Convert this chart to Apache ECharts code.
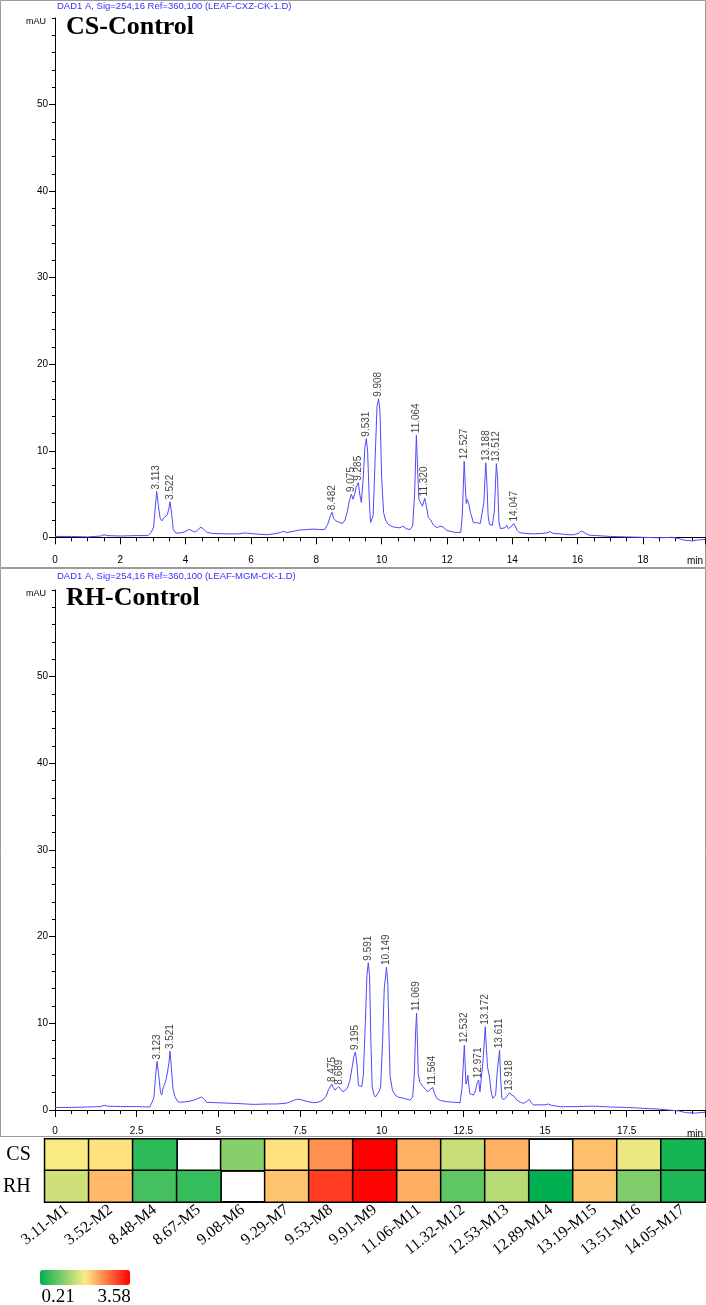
<!DOCTYPE html>
<html>
<head>
<meta charset="utf-8">
<script src="https://cdn.jsdelivr.net/npm/echarts@6.0.0/dist/echarts.min.js"></script>
<style>
html,body{margin:0;padding:0;background:#fff;}
#chart{width:706px;height:1305px;}
</style>
</head>
<body>
<div id="chart"></div>
<script>
// chromatogram traces [time (min), signal (mAU)]
const csTrace = [[0,0.1],[0.5,0.1],[1,0.05],[1.4,0.15],[1.5,0.3],[1.6,0.2],[2,0.15],[2.5,0.2],[2.85,0.2],[2.95,0.6],[3.02,1.2],[3.07,3.5],[3.113,5.3],[3.16,3.8],[3.22,2.2],[3.27,1.9],[3.32,2.2],[3.38,2.3],[3.44,2.6],[3.49,3.4],[3.522,4.1],[3.57,2.8],[3.62,0.9],[3.7,0.5],[3.82,0.5],[3.95,0.6],[4.05,0.8],[4.13,0.9],[4.22,0.7],[4.29,0.6],[4.38,0.9],[4.47,1.2],[4.56,0.9],[4.64,0.6],[4.8,0.45],[5.2,0.4],[5.6,0.4],[5.82,0.5],[6.1,0.4],[6.49,0.3],[6.7,0.4],[6.9,0.55],[6.99,0.7],[7.1,0.55],[7.3,0.7],[7.5,0.85],[7.7,0.9],[7.9,0.95],[8.1,0.9],[8.25,0.9],[8.35,1.5],[8.43,2.5],[8.482,2.9],[8.53,2.2],[8.6,1.9],[8.66,2.0],[8.72,1.7],[8.8,1.6],[8.88,2.0],[8.95,3.0],[9.01,4.2],[9.075,5.0],[9.12,4.4],[9.17,4.9],[9.22,5.8],[9.285,6.3],[9.33,5.0],[9.38,4.0],[9.43,6.5],[9.49,10.5],[9.531,11.4],[9.57,10.0],[9.62,4.5],[9.66,1.7],[9.7,1.5],[9.74,2.5],[9.8,9.0],[9.86,15.2],[9.908,16.0],[9.95,14.5],[10.0,7.0],[10.06,2.85],[10.12,2.0],[10.2,1.5],[10.35,1.2],[10.56,1.1],[10.65,1.3],[10.75,1.0],[10.87,0.9],[10.95,1.3],[11.01,5.0],[11.064,11.8],[11.1,8.0],[11.14,4.4],[11.2,4.2],[11.25,3.6],[11.32,4.5],[11.37,3.6],[11.43,2.3],[11.5,2.0],[11.59,1.4],[11.7,1.1],[11.79,1.3],[11.88,1.2],[11.99,0.8],[12.2,0.6],[12.42,0.55],[12.47,2.5],[12.527,8.8],[12.56,6.0],[12.59,3.9],[12.62,4.4],[12.67,3.8],[12.72,2.85],[12.81,1.7],[12.9,1.7],[12.96,1.9],[13.02,1.6],[13.08,1.7],[13.13,4.0],[13.188,8.6],[13.22,6.5],[13.26,2.5],[13.3,1.5],[13.39,1.4],[13.45,3.0],[13.512,8.5],[13.55,6.8],[13.59,1.8],[13.64,1.0],[13.7,0.9],[13.77,1.1],[13.83,1.4],[13.88,1.0],[13.93,0.9],[13.99,1.3],[14.047,1.6],[14.1,1.2],[14.15,0.8],[14.21,0.55],[14.4,0.45],[14.65,0.4],[14.9,0.45],[15.05,0.5],[15.16,0.65],[15.25,0.45],[15.47,0.4],[15.7,0.3],[15.9,0.3],[16.05,0.5],[16.12,0.75],[16.2,0.55],[16.35,0.25],[16.6,0.2],[17,0.1],[17.5,0.05],[18,0.0],[18.5,-0.05],[18.9,0.0],[19.1,-0.15],[19.3,-0.35],[19.5,-0.4],[19.7,-0.3],[19.9,-0.25]];

const rhTrace = [[0,0.3],[0.5,0.3],[1,0.35],[1.4,0.4],[1.5,0.55],[1.6,0.45],[2,0.4],[2.5,0.4],[2.9,0.35],[2.97,0.9],[3.03,1.5],[3.08,4.0],[3.123,5.6],[3.17,4.2],[3.23,2.0],[3.27,1.75],[3.31,2.6],[3.35,2.9],[3.4,3.5],[3.45,4.5],[3.49,5.5],[3.521,6.8],[3.56,5.0],[3.61,2.5],[3.67,1.55],[3.75,1.0],[3.82,0.9],[4.0,0.95],[4.23,1.1],[4.35,1.3],[4.49,1.5],[4.58,1.2],[4.64,0.9],[4.9,0.85],[5.25,0.8],[5.6,0.75],[6.07,0.65],[6.5,0.7],[6.8,0.7],[7.1,0.8],[7.3,1.1],[7.4,1.25],[7.5,1.23],[7.7,1.0],[7.91,0.85],[8.05,0.9],[8.2,1.15],[8.3,1.6],[8.38,2.4],[8.475,3.0],[8.52,2.6],[8.57,2.3],[8.62,2.5],[8.689,2.7],[8.75,2.4],[8.82,2.1],[8.88,2.1],[8.95,2.5],[9.03,3.45],[9.1,5.0],[9.15,6.2],[9.195,6.7],[9.24,5.5],[9.29,2.85],[9.34,2.8],[9.39,2.7],[9.44,4.0],[9.5,10.0],[9.55,15.5],[9.591,17.0],[9.63,15.5],[9.67,8.0],[9.71,2.7],[9.76,1.8],[9.81,1.5],[9.87,1.7],[9.93,2.2],[9.97,2.7],[10.03,8.0],[10.08,14.0],[10.149,16.5],[10.19,14.5],[10.23,8.0],[10.26,3.85],[10.33,2.3],[10.41,1.73],[10.5,1.5],[10.67,1.35],[10.87,1.15],[10.95,1.5],[11.0,4.0],[11.04,9.0],[11.069,11.2],[11.1,7.5],[11.12,4.2],[11.17,3.2],[11.27,2.7],[11.34,2.4],[11.4,2.1],[11.47,2.3],[11.564,2.6],[11.62,1.9],[11.69,1.35],[11.8,1.1],[11.99,0.96],[12.2,0.9],[12.4,0.85],[12.46,2.5],[12.532,7.5],[12.56,5.0],[12.58,3.0],[12.61,3.3],[12.64,4.0],[12.67,2.8],[12.7,1.9],[12.81,1.73],[12.87,2.2],[12.93,3.2],[12.971,3.45],[13.01,2.1],[13.05,2.2],[13.1,5.5],[13.172,9.6],[13.21,7.0],[13.24,5.0],[13.3,3.85],[13.35,2.2],[13.4,1.35],[13.45,1.5],[13.49,1.73],[13.54,4.5],[13.611,6.9],[13.64,4.0],[13.68,1.35],[13.75,1.2],[13.82,1.5],[13.918,2.0],[13.98,1.73],[14.05,1.6],[14.14,1.15],[14.25,0.9],[14.34,0.77],[14.43,0.95],[14.52,1.23],[14.58,0.85],[14.65,0.58],[14.85,0.6],[15.0,0.6],[15.1,0.7],[15.2,0.55],[15.47,0.38],[16,0.4],[16.5,0.45],[17,0.35],[17.5,0.3],[18,0.2],[18.5,0.1],[18.8,0.0],[19.1,-0.1],[19.3,-0.3],[19.6,-0.35],[19.9,-0.25]];

// labelled peaks
const csPeakTimes = [3.113,3.522,8.482,9.075,9.285,9.531,9.908,11.064,11.320,12.527,13.188,13.512,14.047];
const csPeakHeights = [5.3,4.1,2.9,5.0,6.3,11.4,16.0,11.8,4.5,8.8,8.6,8.5,1.6];
const rhPeakTimes = [3.123,3.521,8.475,8.689,9.195,9.591,10.149,11.069,11.564,12.532,12.971,13.172,13.611,13.918];
const rhPeakHeights = [5.6,6.8,3.0,2.7,6.7,17.0,16.5,11.2,2.6,7.5,3.45,9.6,6.9,2.0];

// y axis ticks
const yMajorTicks = [0,10,20,30,40,50];
const yMinorTicks = [2,4,6,8,12,14,16,18,22,24,26,28,32,34,36,38,42,44,46,48,52,54,56,58,60];

// heatmap
const metaboliteLabels = ['3.11-M1','3.52-M2','8.48-M4','8.67-M5','9.08-M6','9.29-M7','9.53-M8','9.91-M9','11.06-M11','11.32-M12','12.53-M13','12.89-M14','13.19-M15','13.51-M16','14.05-M17'];
const groupLabels = ['CS','RH'];
const csValues = [1.86,1.97,0.51,null,1.10,1.97,2.55,3.58,2.32,1.53,2.32,null,2.21,1.77,0.35];
const rhValues = [1.58,2.25,0.66,0.56,null,2.17,3.16,3.55,2.33,0.83,1.41,0.21,2.17,1.05,0.40];
const scaleMin = 0.21;
const scaleMax = 3.58;

const traceColor = '#4b4bff';
const sans = 'Liberation Sans';
const serif = 'Liberation Serif';

const heatData = [];
csValues.forEach((v,i)=>{ if (v !== null) heatData.push([i,'CS',v]); });
rhValues.forEach((v,i)=>{ if (v !== null) heatData.push([i,'RH',v]); });

const traceXAxis = (grid, interval, minorSplit)=>({
    gridIndex: grid, type: 'value', min: 0, max: 19.9, interval: interval,
    axisLine: {lineStyle: {color: '#000', width: 1}},
    axisTick: {length: 7, lineStyle: {color: '#000'}},
    minorTick: {show: true, splitNumber: minorSplit, length: 4, lineStyle: {color: '#000'}},
    axisLabel: {fontSize: 10, fontFamily: sans, color: '#000', margin: 4, showMaxLabel: false},
    splitLine: {show: false},
    name: 'min', nameLocation: 'end', nameGap: -18,
    nameTextStyle: {fontSize: 10, fontFamily: sans, color: '#000', verticalAlign: 'top', padding: [19,0,0,0]}
});
const hiddenX = (grid)=>({gridIndex: grid, type: 'value', min: 0, max: 19.9, show: false});
const majorY = (grid, min)=>({
    gridIndex: grid, type: 'value', min: min, max: 60, position: 'left',
    axisLine: {show: true, lineStyle: {color: '#000', width: 1}},
    axisTick: {show: true, length: 6, customValues: yMajorTicks, lineStyle: {color: '#000'}},
    axisLabel: {customValues: yMajorTicks, fontSize: 10, fontFamily: sans, color: '#000', margin: 7},
    splitLine: {show: false},
    name: 'mAU', nameLocation: 'end', nameGap: -4,
    nameTextStyle: {fontSize: 9, fontFamily: sans, color: '#000', align: 'right', verticalAlign: 'middle', padding: [0,9,0,0]}
});
const minorY = (grid, min)=>({
    gridIndex: grid, type: 'value', min: min, max: 60, position: 'left',
    axisLine: {show: false},
    axisTick: {show: true, length: 3, customValues: yMinorTicks, lineStyle: {color: '#000'}},
    axisLabel: {show: false},
    splitLine: {show: false}
});
const peakLabel = {
    show: true, position: 'top', distance: 2, rotate: 90, align: 'left', verticalAlign: 'middle',
    fontSize: 10, fontFamily: sans, color: '#111',
    formatter: (p)=>p.value[0].toFixed(3)
};

const option = {
    animation: false,
    backgroundColor: '#fff',
    grid: [
        {left: 55, right: 1, top: 18, height: 533},
        {left: 55, right: 1, top: 18, height: 524},
        {left: 55, right: 1, top: 590, height: 532},
        {left: 55, right: 1, top: 590, height: 525},
        {left: 42, right: 1, top: 1139, height: 63, show: true, borderColor: '#000', borderWidth: 1.5}
    ],
    xAxis: [
        traceXAxis(0, 2, 4),
        hiddenX(1),
        traceXAxis(2, 2.5, 5),
        hiddenX(3),
        {
            gridIndex: 4, type: 'category', data: metaboliteLabels,
            axisLine: {show: true, lineStyle: {color: '#000', width: 1.5}},
            axisTick: {show: false},
            axisLabel: {interval: 0, rotate: 38, margin: 6, fontSize: 16, fontFamily: serif, color: '#000'},
            splitLine: {show: true, interval: 0, lineStyle: {color: '#000', width: 1.5}}
        }
    ],
    yAxis: [
        {gridIndex: 0, type: 'value', min: -1.58, max: 60, show: false},
        majorY(1, -0.54),
        minorY(1, -0.54),
        {gridIndex: 2, type: 'value', min: -1.38, max: 60, show: false},
        majorY(3, -0.58),
        minorY(3, -0.58),
        {
            gridIndex: 4, type: 'category', data: groupLabels, inverse: true,
            axisLine: {show: true, lineStyle: {color: '#000', width: 1.5}},
            axisTick: {show: false},
            axisLabel: {fontSize: 20, fontFamily: serif, color: '#000', margin: 14},
            splitLine: {show: true, interval: 0, lineStyle: {color: '#000', width: 1.5}}
        }
    ],
    visualMap: {
        type: 'continuous', seriesIndex: 4, min: scaleMin, max: scaleMax,
        orient: 'horizontal', left: 40, top: 1270, itemWidth: 15, itemHeight: 90,
        calculable: false, padding: 0, text: null, showLabel: false,
        inRange: {color: ['#00b050', '#ffeb84', '#ff0000']}
    },
    series: [
        {type: 'line', xAxisIndex: 0, yAxisIndex: 0, data: csTrace, symbol: 'none',
            lineStyle: {color: traceColor, width: 1}, silent: true},
        {type: 'scatter', xAxisIndex: 0, yAxisIndex: 0, symbolSize: 0,
            data: csPeakTimes.map((t,i)=>[t, csPeakHeights[i]]), label: peakLabel},
        {type: 'line', xAxisIndex: 2, yAxisIndex: 3, data: rhTrace, symbol: 'none',
            lineStyle: {color: traceColor, width: 1}, silent: true},
        {type: 'scatter', xAxisIndex: 2, yAxisIndex: 3, symbolSize: 0,
            data: rhPeakTimes.map((t,i)=>[t, rhPeakHeights[i]]), label: peakLabel},
        {type: 'heatmap', xAxisIndex: 4, yAxisIndex: 6, data: heatData,
            itemStyle: {borderColor: '#000', borderWidth: 1.5}}
    ],
    graphic: [
        {type: 'rect', shape: {x: 0.5, y: 0.5, width: 705, height: 567}, style: {fill: 'none', stroke: '#9a9a9a', lineWidth: 1}},
        {type: 'rect', shape: {x: 0.5, y: 568.5, width: 705, height: 568}, style: {fill: 'none', stroke: '#9a9a9a', lineWidth: 1}},
        {type: 'text', x: 57, y: 6.5, style: {text: 'DAD1 A, Sig=254,16 Ref=360,100 (LEAF-CXZ-CK-1.D)', font: '9.5px "Liberation Sans"', fill: '#3333ff', verticalAlign: 'middle'}},
        {type: 'text', x: 66, y: 27, style: {text: 'CS-Control', font: 'bold 26px "Liberation Serif"', fill: '#000', verticalAlign: 'middle'}},
        {type: 'text', x: 57, y: 576, style: {text: 'DAD1 A, Sig=254,16 Ref=360,100 (LEAF-MGM-CK-1.D)', font: '9.5px "Liberation Sans"', fill: '#3333ff', verticalAlign: 'middle'}},
        {type: 'text', x: 66, y: 598, style: {text: 'RH-Control', font: 'bold 26px "Liberation Serif"', fill: '#000', verticalAlign: 'middle'}},
        {type: 'text', x: 58, y: 1297, style: {text: scaleMin.toFixed(2), font: '19px "Liberation Serif"', fill: '#000', align: 'center', verticalAlign: 'middle'}},
        {type: 'text', x: 114, y: 1297, style: {text: scaleMax.toFixed(2), font: '19px "Liberation Serif"', fill: '#000', align: 'center', verticalAlign: 'middle'}}
    ]
};

window.addEventListener("load", ()=>{
    const chart = echarts.init(document.getElementById("chart"));
    chart.setOption(option);
});
</script>
</body>
</html>
